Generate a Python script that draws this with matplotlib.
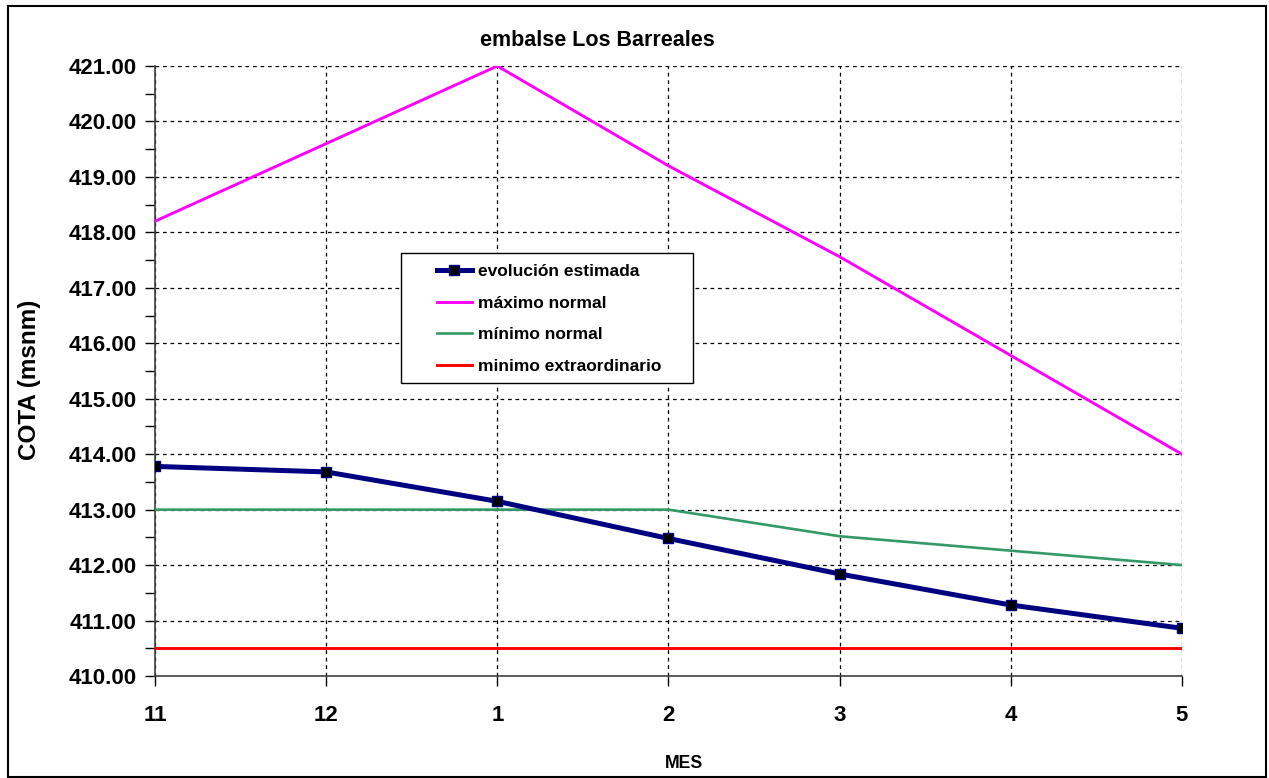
import numpy as np
from matplotlib import pyplot as plt
from matplotlib.patches import Rectangle

plt.rcParams['font.family'] = ['Liberation Sans', 'DejaVu Sans']
plt.rcParams['font.weight'] = 'bold'

meses = ['11', '12', '1', '2', '3', '4', '5']
evolucion = [413.78, 413.68, 413.15, 412.48, 411.84, 411.28, 410.86]
maximo_normal = [418.2, 419.6, 421.0, 419.2, 417.56, 415.78, 414.0]
minimo_normal = [413.0, 413.0, 413.0, 413.0, 412.52, 412.26, 412.0]
minimo_extra = [410.5] * 7

W, H = 1269, 778
fig = plt.figure(figsize=(W / 100, H / 100), dpi=100)
ax = fig.add_axes([155/W, 1 - 676/H, 1027/W, 610/H])

x = np.arange(len(meses))
ax.plot(x, evolucion, color='#000080', lw=3.6, marker='s', ms=7,
        mfc='black', mec='#000080', mew=1, label='evolución estimada', zorder=5)
ax.plot(x, maximo_normal, color='#FF00FF', lw=2.1, label='máximo normal', zorder=4)
ax.plot(x, minimo_normal, color='#339966', lw=1.9, label='mínimo normal', zorder=4)
ax.plot(x, minimo_extra, color='#FF0000', lw=2.1, label='minimo extraordinario', zorder=4)

ax.set_xlim(0, 6)
ax.set_ylim(410, 421)
ax.set_xticks(x)
ax.set_xticklabels(meses)
ax.set_yticks(np.arange(410, 421.5, 1))
ax.set_yticklabels(['%.2f' % v for v in np.arange(410, 421.5, 1)])
ax.set_yticks(np.arange(410.5, 421, 1), minor=True)
ax.tick_params(axis='both', labelsize=16, direction='out', length=7, width=1)
ax.tick_params(axis='y', which='minor', direction='out', length=7, width=1)
ax.tick_params(axis='y', pad=6)
ax.tick_params(axis='x', pad=14)
for lbl in ax.get_xticklabels() + ax.get_yticklabels():
    lbl.set_fontweight('bold')

ax.grid(True, which='major', color='black', ls=(0, (3, 3)), lw=0.9)
ax.spines['top'].set_visible(False)
ax.spines['right'].set_visible(False)
ax.spines['left'].set_color('#404040')
ax.spines['bottom'].set_color('#404040')
ax.spines['left'].set_linewidth(1.2)
ax.spines['bottom'].set_linewidth(1.2)

# legend box drawn separately (wide side padding like the original)
ax.add_patch(Rectangle((401/W, 1 - 383/H), 292/W, 130/H, transform=fig.transFigure,
                       facecolor='white', edgecolor='black', lw=1, zorder=9))
leg = ax.legend(loc='upper left', bbox_to_anchor=(437/W, 1 - 264/H),
                bbox_transform=fig.transFigure, fontsize=12.5, frameon=False,
                borderpad=0, labelspacing=0.95, handlelength=2.0,
                handletextpad=0.35, borderaxespad=0)
leg.set_zorder(10)
for t in leg.get_texts():
    t.set_fontweight('bold')

fig.text(597/W, 1 - 40/H, 'embalse Los Barreales', ha='center', va='center',
         fontsize=15.5, fontweight='bold')
fig.text(30/W, 1 - 380/H, 'COTA (msnm)', ha='center', va='center',
         rotation=90, fontsize=17.5, fontweight='bold')
fig.text(684/W, 1 - 763/H, 'MES', ha='center', va='center',
         fontsize=12.7, fontweight='bold')

fig.patches.append(Rectangle((8/W, 1/H), 1258/W, 771/H, transform=fig.transFigure,
                             fill=False, edgecolor='black', lw=1.5))

fig.savefig('out.png', dpi=100)
